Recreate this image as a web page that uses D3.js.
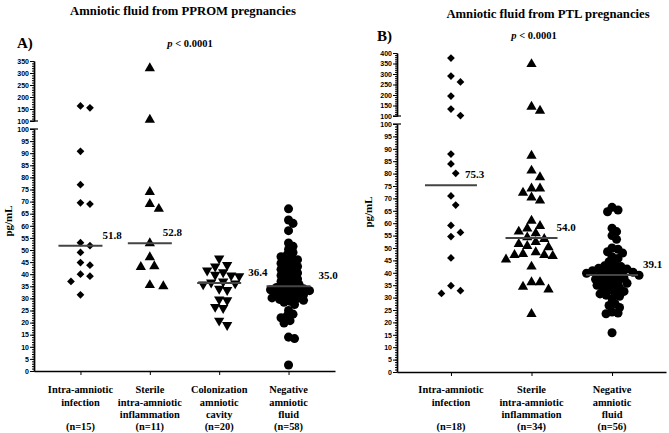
<!DOCTYPE html>
<html>
<head>
<meta charset="utf-8">
<script src="https://cdn.jsdelivr.net/npm/d3@7"></script>
<style>
  body { margin: 0; background: #fff; }
  svg { display: block; }
</style>
</head>
<body>
<svg id="chart" width="669" height="433"></svg>
<script>
// ---- data (pg/mL) ----
const ppromCategories = [
  ['Intra-amniotic', 'infection'],
  ['Sterile', 'intra-amniotic', 'inflammation'],
  ['Colonization', 'amniotic', 'cavity'],
  ['Negative', 'amniotic', 'fluid']
];
const ppromN = [15, 11, 20, 58];
const ppromMedians = [51.8, 52.8, 36.4, 35.0];
const ppromInfection = [163, 155, 90.8, 77, 69.5, 69, 53, 51.8, 49, 44.8, 43.7, 40, 39.2, 37, 31.5];
const ppromSterile = [320, 105, 74, 69, 67, 52.8, 47, 43.3, 43, 35.5, 35];
const ppromColonization = [46.5, 43.8, 43.2, 41.5, 40.8, 39.8, 39.5, 39.2, 37, 36.6,
  36.2, 35.8, 34, 33.5, 29.6, 29.2, 26.5, 26, 20.8, 19];
const ppromNegative = [67, 62.4, 61, 58, 52.9, 51.5, 50.2, 49, 48, 47.2, 46.5, 46, 45.2, 44.5,
  44, 43.2, 42.5, 42, 41.2, 40.5, 40, 39.5, 38.8, 38, 37.5, 37, 36.4, 35.8, 35.2,
  34.8, 34.5, 34.2, 34, 33.6, 33.2, 33, 32.6, 32.2, 31.8, 31.5, 31, 30.6, 30.2, 30,
  29.6, 29.2, 28.8, 28.4, 27.5, 25, 23.5, 22.8, 22, 20.8, 19.8, 14, 13.4, 2.5];

const ptlCategories = [
  ['Intra-amniotic', 'infection'],
  ['Sterile', 'intra-amniotic', 'inflammation'],
  ['Negative', 'amniotic', 'fluid']
];
const ptlN = [18, 34, 56];
const ptlMedians = [75.3, 54.0, 39.1];
const ptlInfection = [376, 290, 262, 195, 133, 102, 87.9, 83.9, 80.1, 71, 67.3, 59.1, 56.3,
  54.6, 46, 34.8, 32.8, 31.7];
const ptlSterile = [347, 144, 125, 87.2, 81.2, 78.5, 74, 74, 72.3, 70.4, 69.1, 61, 58.9, 57.9,
  56.6, 55.9, 54.3, 53.6, 52.4, 51.6, 50.8, 50.3, 48.3, 47.6, 47.2, 47.2, 46.8, 45.4,
  42.5, 36.2, 36.2, 34.4, 33.3, 23.4];
const ptlNegative = [66.4, 65.3, 64.6, 58, 56.6, 55, 53.5, 50, 49.5, 48.5, 48, 46.5, 45.8, 44.5,
  43.5, 42.8, 42.5, 42, 41.8, 41.5, 41, 40.8, 40.5, 40.2, 40, 39.8, 39.5, 39.2,
  39, 38.6, 38.2, 37.8, 37.4, 37, 36.6, 36.2, 35.8, 35.4, 35, 34.5, 34, 33.5, 33,
  32.5, 32, 31.5, 31, 30.5, 29.5, 27.5, 26.8, 26, 24.2, 23.8, 23.5, 15.8];

const svg = d3.select('#chart');
const serif = "'Liberation Serif', 'Times New Roman', serif";
const sans = "'Liberation Sans', Arial, sans-serif";

// simple beeswarm: put each point as close to the centre as it can go
function swarm(values, cx, y, minDist, step) {
  const pts = values.map(v => ({ v, y: y(v) })).sort((a, b) => a.y - b.y);
  const placed = [];
  pts.forEach(p => {
    for (let k = 0; k < 200; k++) {
      const off = k === 0 ? 0 : (k % 2 ? 1 : -1) * Math.ceil(k / 2) * step;
      const ok = placed.every(q => Math.hypot(q.x - (cx + off), q.y - p.y) >= minDist);
      if (ok) { p.x = cx + off; break; }
    }
    placed.push(p);
  });
  return pts;
}

const shapes = {
  diamond: { sym: d3.symbolSquare, size: 30, rot: 45 },
  triangle: { sym: d3.symbolTriangle, size: 46, rot: 0 },
  down: { sym: d3.symbolTriangle, size: 46, rot: 180 },
  circle: { sym: d3.symbolCircle, size: 64, rot: 0 }
};

function drawPanel(p) {
  const g = svg.append('g');
  const yLow = d3.scaleLinear().domain([0, 100]).range([p.y0, p.y100]);
  const yHigh = d3.scaleLinear().domain([100, p.top]).range([p.yBreak, p.yTop]);
  const y = v => v <= 100 ? yLow(v) : yHigh(v);
  const x = d3.scalePoint().domain(d3.range(p.groups.length)).range([p.x0, p.x1]).padding(p.pad);

  // y axis, lower part
  g.append('g').attr('transform', `translate(${p.x0},0)`)
    .call(d3.axisLeft(yLow).tickValues(d3.range(0, 101, 1)).tickSize(2).tickSizeOuter(0).tickFormat(''));
  g.append('g').attr('transform', `translate(${p.x0},0)`)
    .call(d3.axisLeft(yLow).tickValues(d3.range(0, 101, 5)).tickSize(4).tickSizeOuter(0).tickPadding(1))
    .call(a => a.selectAll('text').style('font', `bold 7px ${sans}`));
  // y axis, upper part
  g.append('g').attr('transform', `translate(${p.x0},0)`)
    .call(d3.axisLeft(yHigh).tickValues(d3.range(100, p.top + 1, 10)).tickSize(2).tickSizeOuter(0).tickFormat(''));
  g.append('g').attr('transform', `translate(${p.x0},0)`)
    .call(d3.axisLeft(yHigh).tickValues(d3.range(100, p.top + 1, 50)).tickSize(4).tickSizeOuter(0).tickPadding(1))
    .call(a => a.selectAll('text').style('font', `bold 7px ${sans}`));
  // break marks
  [yLow(100), yHigh(100)].forEach(yy => {
    g.append('line').attr('x1', p.x0 - 4).attr('x2', p.x0 + 4)
      .attr('y1', yy).attr('y2', yy).attr('stroke', '#000').attr('stroke-width', 1.2);
  });
  g.selectAll('.domain').attr('stroke-width', 1.4);

  // x axis
  g.append('g').attr('transform', `translate(0,${p.y0})`)
    .call(d3.axisBottom(x).tickSize(4).tickSizeOuter(0).tickFormat(''))
    .call(a => a.select('.domain').attr('stroke-width', 1.4));

  // points
  p.groups.forEach((vals, i) => {
    const s = shapes[p.shapes[i]];
    const pts = swarm(vals, x(i), y, p.dist[i], p.step[i]);
    g.append('g').selectAll('path').data(pts).join('path')
      .attr('d', d3.symbol(s.sym, s.size))
      .attr('transform', d => `translate(${d.x},${d.y}) rotate(${s.rot})`)
      .attr('fill', '#000');

    // median line and label
    const my = y(p.medians[i]);
    g.append('line').attr('x1', x(i) - p.half).attr('x2', x(i) + p.half)
      .attr('y1', my).attr('y2', my).attr('stroke', '#444').attr('stroke-width', 2);
    g.append('text').attr('x', x(i) + p.labelDx[i]).attr('y', my - 7)
      .style('font', `bold 11px ${serif}`).text(p.medians[i].toFixed(1));

    // category labels
    const t = g.append('text').attr('text-anchor', 'middle').style('font', `bold 10.4px ${serif}`);
    p.cats[i].forEach((line, j) => {
      t.append('tspan').attr('x', x(i)).attr('y', 393 + j * 12.5).text(line);
    });
    g.append('text').attr('x', x(i)).attr('y', 430).attr('text-anchor', 'middle')
      .style('font', `bold 10.4px ${serif}`).text(`(n=${p.n[i]})`);
  });

  // titles and labels
  g.append('text').attr('x', p.titleX).attr('y', p.titleY).attr('text-anchor', 'middle')
    .style('font', `bold 12.7px ${serif}`).text(p.title);
  g.append('text').attr('x', p.tagX).attr('y', p.tagY)
    .style('font', `bold 15px ${serif}`).text(p.tag);
  const pv = g.append('text').attr('x', p.pX).attr('y', p.pY).attr('text-anchor', 'middle')
    .style('font', `bold 10.5px ${serif}`);
  pv.append('tspan').style('font-style', 'italic').text('p');
  pv.append('tspan').text(' < 0.0001');
  g.append('text').attr('transform', `translate(${p.unitX},${p.unitY}) rotate(-90)`)
    .attr('text-anchor', 'middle').style('font', `bold 11px ${serif}`).text('pg/mL');
}

drawPanel({
  groups: [ppromInfection, ppromSterile, ppromColonization, ppromNegative],
  cats: ppromCategories, n: ppromN, medians: ppromMedians,
  shapes: ['diamond', 'triangle', 'down', 'circle'],
  dist: [9.5, 9.5, 8, 5.3], step: [4.75, 4.5, 4, 1.5],
  labelDx: [22, 13, 29, 30], half: 22,
  x0: 34, x1: 335, pad: 0.67,
  y0: 371, y100: 129, yBreak: 121, yTop: 61, top: 350,
  title: 'Amniotic fluid from PPROM pregnancies', titleX: 183, titleY: 15,
  tag: 'A)', tagX: 17, tagY: 48, pX: 190, pY: 47, unitX: 12, unitY: 221
});

drawPanel({
  groups: [ptlInfection, ptlSterile, ptlNegative],
  cats: ptlCategories, n: ptlN, medians: ptlMedians,
  shapes: ['diamond', 'triangle', 'circle'],
  dist: [9.5, 8.5, 5.6], step: [4.75, 4.25, 1.5],
  labelDx: [14, 25, 31], half: 26,
  x0: 397, x1: 666, pad: 0.67,
  y0: 372, y100: 124, yBreak: 116, yTop: 53, top: 400,
  title: 'Amniotic fluid from PTL pregnancies', titleX: 548, titleY: 18,
  tag: 'B)', tagX: 377, tagY: 41, pX: 534, pY: 39, unitX: 372, unitY: 212
});
</script>
</body>
</html>
